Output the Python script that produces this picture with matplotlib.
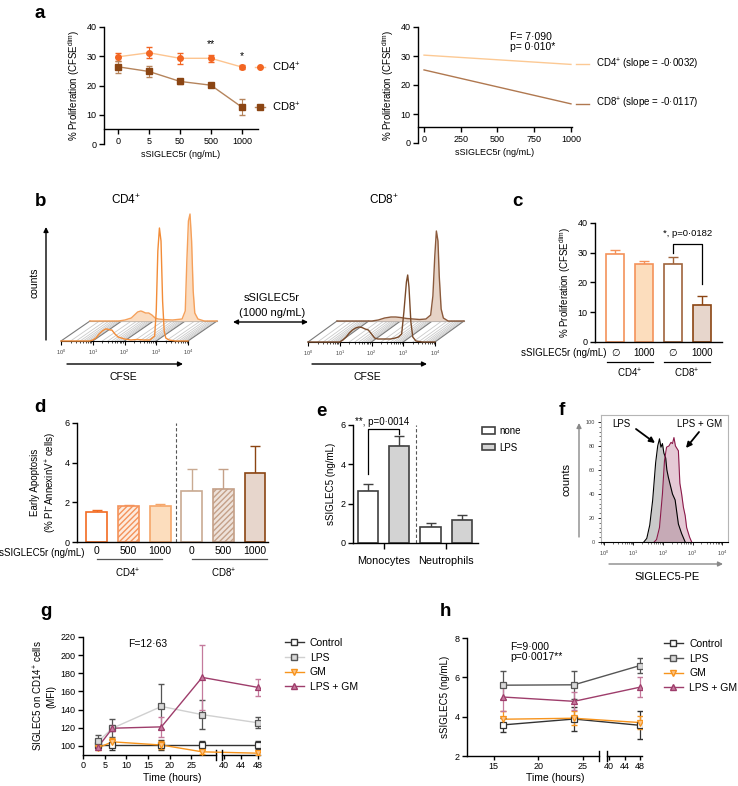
import numpy as np
import matplotlib
matplotlib.use('Agg')
import matplotlib.pyplot as plt
from matplotlib.patches import FancyArrowPatch, Patch
from matplotlib.lines import Line2D
from matplotlib.ticker import LogLocator, NullFormatter, FixedLocator

plt.rcParams['font.family'] = ['Liberation Sans', 'DejaVu Sans']
plt.rcParams['mathtext.default'] = 'regular'
plt.rcParams['axes.linewidth'] = 1.0

W, H = 738, 786
fig = plt.figure(figsize=(W / 100, H / 100), dpi=100)

# ---------------- data ----------------
# a
conc_labels = ['0', '5', '50', '500', '1000']
cd4_mean = [29.8, 31.2, 29.3, 29.3, 26.3]
cd4_sem = [1.3, 1.9, 1.9, 1.1, 0.7]
cd8_mean = [26.4, 24.8, 21.4, 20.1, 12.6]
cd8_sem = [2.1, 1.8, 0.8, 0.4, 2.8]
fit_x = [0, 1000]
cd4_fit = [30.3, 27.1]
cd8_fit = [25.2, 13.5]

# b (histograms, x in log10 decades, y in arbitrary counts)
cd4_front_x = [0, 0.9, 1.0, 1.1, 1.2, 1.3, 1.4, 1.45, 1.55, 1.6, 1.7, 1.8, 1.9, 2.0, 2.2, 2.4,
               2.6, 2.8, 2.95, 3.0, 3.05, 3.1, 3.15, 3.2, 3.25, 3.3, 3.4, 3.6, 4.0]
cd4_front_y = [0, 0, 1, 3, 7, 10, 12, 12, 11, 11, 7, 4, 3, 2, 1, 1.5,
               1, 1, 5, 30, 90, 113, 100, 40, 10, 3, 1, 0, 0]
cd4_back_x = [0, 0.9, 1.1, 1.3, 1.4, 1.5, 1.6, 1.65, 1.75, 1.85, 1.95, 2.05, 2.15, 2.3, 2.6,
              2.9, 3.0, 3.05, 3.1, 3.15, 3.2, 3.25, 3.3, 3.4, 3.6, 4.0]
cd4_back_y = [0, 0, 1, 3, 6, 9, 10, 9.5, 8, 8, 6, 3, 2, 1.5, 1,
              2, 10, 60, 100, 107, 80, 30, 8, 2, 0, 0]
cd8_front_x = [0, 1.0, 1.1, 1.2, 1.3, 1.4, 1.5, 1.6, 1.7, 1.8, 1.9, 2.0, 2.1, 2.2, 2.4, 2.6,
               2.75, 2.85, 2.95, 3.02, 3.1, 3.14, 3.18, 3.24, 3.3, 3.4, 3.6, 4.0]
cd8_front_y = [0, 0, 2, 5, 9, 12, 14, 15, 14.5, 13, 12, 8, 4, 3, 3, 3,
               4, 5, 8, 30, 60, 67, 55, 20, 5, 1, 0, 0]
cd8_back_x = [0, 1.1, 1.3, 1.5, 1.7, 1.85, 2.0, 2.2, 2.4, 2.6, 2.8, 2.95, 3.02, 3.08, 3.13,
              3.18, 3.22, 3.28, 3.35, 3.5, 4.0]
cd8_back_y = [0, 0, 1, 3, 4, 4, 3.5, 2.5, 2, 1.5, 2, 6, 25, 65, 90,
              80, 45, 12, 3, 0, 0]

# c
c_labels = ['\u2205', '1000', '\u2205', '1000']
c_mean = [29.7, 26.2, 26.3, 12.6]
c_sem = [1.3, 0.9, 2.2, 2.9]

# d
d_labels = ['0', '500', '1000', '0', '500', '1000']
d_mean = [1.5, 1.8, 1.82, 2.57, 2.68, 3.5]
d_sem = [0.12, 0.08, 0.12, 1.1, 1.0, 1.35]

# e
e_groups = ['Monocytes', 'Neutrophils']
e_none = [2.65, 0.8]
e_none_sem = [0.35, 0.2]
e_lps = [4.92, 1.15]
e_lps_sem = [0.52, 0.28]

# f (histograms, x in log10 decades, y in % of max)
f_lps_x = [1.35, 1.45, 1.55, 1.65, 1.75, 1.82, 1.88, 1.93, 1.98, 2.03, 2.09, 2.13, 2.18,
           2.25, 2.32, 2.41, 2.52, 2.63, 2.75]
f_lps_y = [0, 3, 14, 35, 66, 80, 86, 79, 82, 74, 70, 60, 54, 47, 40, 35, 15, 7, 0]
f_gm_x = [1.7, 1.78, 1.88, 1.98, 2.05, 2.12, 2.2, 2.27, 2.32, 2.37, 2.42, 2.47, 2.52,
          2.57, 2.63, 2.69, 2.75, 2.8, 2.9, 2.97]
f_gm_y = [0, 2, 12, 40, 68, 79, 80, 83, 82, 87, 80, 78, 76, 49, 40, 29, 22, 12, 4, 0]

# g
g_time_early = [3.5, 6.8, 18.1, 27.5]
g_time_late = [48]
g_control = [101, 101, 101, 101, 101]
g_control_err = [3, 5, 5, 4, 4]
g_lps = [105, 119.5, 143.5, 134.5, 125.5]
g_lps_err = [7, 10, 25, 16, 6]
g_gm = [98, 104.5, 101, 93.5, 92]
g_gm_err = [3, 4, 4, 2, 2]
g_lpsgm = [99, 119.5, 121, 175.5, 164.5]
g_lpsgm_err = [2, 3, 11, 36, 9.5]

# h
h_time_early = [16, 24]
h_time_late = [48]
h_control = [3.58, 3.88, 3.56]
h_control_err = [0.35, 0.6, 0.72]
h_lps = [5.6, 5.62, 6.6]
h_lps_err = [0.7, 0.7, 0.4]
h_gm = [3.87, 3.92, 3.7]
h_gm_err = [0.4, 0.35, 0.35]
h_lpsgm = [5.0, 4.78, 5.5]
h_lpsgm_err = [0.7, 0.45, 0.5]

# ---------------- helpers ----------------
ORANGE = '#F26522'
ORANGE_L = '#FDC48F'
BROWN = '#8B4513'
BROWN_L = '#B5845C'
MAROON = '#9E3D6B'
TICK_FS = 6.5
LAB_FS = 7


def add_ax(x0, y0, x1, y1):
    return fig.add_axes([x0 / W, 1 - y1 / H, (x1 - x0) / W, (y1 - y0) / H])


def ftext(x, y, s, **kw):
    kw.setdefault('ha', 'center')
    kw.setdefault('va', 'center')
    fig.text(x / W, 1 - y / H, s, **kw)


def farrow(x0, y0, x1, y1, style='-|>', color='k', lw=1.0, ms=7):
    fig.add_artist(FancyArrowPatch((x0 / W, 1 - y0 / H), (x1 / W, 1 - y1 / H),
                                   transform=fig.transFigure, arrowstyle=style,
                                   mutation_scale=ms, lw=lw, color=color,
                                   shrinkA=0, shrinkB=0))


def prism(ax, fs=TICK_FS):
    for s in ['top', 'right']:
        ax.spines[s].set_visible(False)
    ax.tick_params(direction='out', length=3.5, width=1, labelsize=fs, pad=2)


# panel letters
for lab, x, y in [('a', 40, 14), ('b', 41, 202), ('c', 517, 202), ('d', 40, 408),
                  ('e', 321, 412), ('f', 562, 410), ('g', 46, 612), ('h', 445, 612)]:
    ftext(x, y, lab, fontsize=13.5, fontweight='bold')

# ---------------- a (left) ----------------
ax = add_ax(104, 27, 258, 144)
prism(ax)
xi = np.arange(len(conc_labels))
ax.errorbar(xi, cd4_mean, yerr=cd4_sem, color=ORANGE_L, lw=1, marker='o', ms=4,
            mfc=ORANGE, mec=ORANGE, ecolor=ORANGE, elinewidth=0.8, capsize=2)
ax.errorbar(xi, cd8_mean, yerr=cd8_sem, color=BROWN_L, lw=1, marker='s', ms=4,
            mfc=BROWN, mec=BROWN, ecolor=BROWN_L, elinewidth=0.8, capsize=2)
ax.set_xlim(-0.45, 4.52)
ax.set_ylim(0, 40)
ax.spines['bottom'].set_position(('data', 5))
ax.set_xticks(xi)
ax.set_xticklabels(conc_labels)
ax.set_yticks([0, 10, 20, 30, 40])
ax.set_ylabel('% Proliferation (CFSE$^{dim}$)', fontsize=LAB_FS, labelpad=3)
ax.set_xlabel('sSIGLEC5r (ng/mL)', fontsize=TICK_FS, labelpad=3)
ax.text(3, 32.3, '**', ha='center', va='bottom', fontsize=7.5)
ax.text(4, 28.3, '*', ha='center', va='bottom', fontsize=7.5)
for mean, lc, mc, mk, lab in [(cd4_mean, ORANGE_L, ORANGE, 'o', 'CD4$^{+}$'),
                              (cd8_mean, BROWN_L, BROWN, 's', 'CD8$^{+}$')]:
    ax.plot([4.42, 4.74], [mean[-1], mean[-1]], color=lc, lw=1, clip_on=False)
    ax.plot([4.58], [mean[-1]], marker=mk, ms=4, color=mc, clip_on=False)
    ax.text(4.98, mean[-1], lab, fontsize=8, va='center', ha='left')

# ---------------- a (right) ----------------
ax = add_ax(418, 27, 572, 143)
prism(ax)
ax.plot(fit_x, cd4_fit, color='#FCC994', lw=1)
ax.plot(fit_x, cd8_fit, color='#B07850', lw=1)
ax.set_xlim(-41, 1007)
ax.set_ylim(0, 40)
ax.spines['bottom'].set_position(('data', 5.5))
ax.set_xticks([0, 250, 500, 750, 1000])
ax.set_yticks([0, 10, 20, 30, 40])
ax.set_ylabel('% Proliferation (CFSE$^{dim}$)', fontsize=LAB_FS, labelpad=3)
ax.set_xlabel('sSIGLEC5r (ng/mL)', fontsize=TICK_FS, labelpad=3)
ax.text(585, 34.8, 'F= 7\u00b7090\np= 0\u00b7010*', fontsize=7.5, va='center', ha='left',
        linespacing=1.0)
for fit, lc, lab in [(cd4_fit, '#FCC994', 'CD4$^{+}$ (slope = -0\u00b70032)'),
                     (cd8_fit, '#B07850', 'CD8$^{+}$ (slope = -0\u00b70117)')]:
    ax.plot([1036, 1124], [fit[-1], fit[-1]], color=lc, lw=1, clip_on=False)
    ax.text(1170, fit[-1], lab, fontsize=7, va='center', ha='left')

# ---------------- b ----------------


def waterfall(x0, base_y, dx, dy, fx, fy, bx, by, line_c, fill_c, edge_c):
    ax = add_ax(x0, base_y - 162, x0 + 127, base_y)
    ax.set_xscale('log')
    ax.set_xlim(1, 1e4)
    ax.set_ylim(0, 162)
    S = 10 ** (dx / (127 / 4))
    for s in ['top', 'right', 'left']:
        ax.spines[s].set_visible(False)
    ax.spines['bottom'].set_linewidth(0.8)
    ax.patch.set_visible(False)
    ax.set_yticks([])
    ax.xaxis.set_major_locator(FixedLocator([1, 10, 100, 1000, 10000]))
    ax.xaxis.set_minor_locator(LogLocator(base=10, subs=np.arange(2, 10), numticks=20))
    ax.xaxis.set_minor_formatter(NullFormatter())
    ax.set_xticklabels(['$10^{0}$', '$10^{1}$', '$10^{2}$', '$10^{3}$', '$10^{4}$'])
    ax.tick_params(axis='x', which='major', length=3, width=0.8, labelsize=4, pad=2,
                   labelcolor='#444444')
    ax.tick_params(axis='x', which='minor', length=1.5, width=0.5)
    # floor stripes
    for k in range(4):
        for m in range(1, 10):
            v = m * 10 ** k
            c = '#7a7a7a' if m == 1 else '#cacaca'
            ax.plot([v, v * S], [0, dy], color=c, lw=0.6 if m > 1 else 0.8,
                    clip_on=False, zorder=1)
    ax.plot([1e4, 1e4 * S], [0, dy], color='#7a7a7a', lw=0.8, clip_on=False, zorder=1)
    ax.plot([S, 1e4 * S], [dy, dy], color='#9a9a9a', lw=0.8, clip_on=False, zorder=1)
    bxs = 10 ** np.array(bx) * S
    bys = np.array(by) + dy
    ax.fill_between(bxs, dy, bys, color=fill_c, lw=0, clip_on=False, zorder=2)
    ax.plot(bxs, bys, color=edge_c, lw=1, clip_on=False, zorder=3)
    ax.plot(10 ** np.array(fx), fy, color=line_c, lw=1, clip_on=False, zorder=4)
    return ax


waterfall(61, 341, 29, 20, cd4_front_x, cd4_front_y, cd4_back_x, cd4_back_y,
          '#F28C38', '#FBDCC0', '#F5A05A')
waterfall(308, 342, 29, 21, cd8_front_x, cd8_front_y, cd8_back_x, cd8_back_y,
          '#7A4A2A', '#E6D3C6', '#8B5A3C')
ftext(126, 200, 'CD4$^{+}$', fontsize=8.5)
ftext(384, 200, 'CD8$^{+}$', fontsize=8.5)
farrow(46, 340, 46, 227)
ftext(34, 283, 'counts', fontsize=7.5, rotation=90)
farrow(67, 364, 183, 364)
farrow(312, 364, 427, 364)
ftext(123, 377, 'CFSE', fontsize=7.5)
ftext(367, 377, 'CFSE', fontsize=7.5)
farrow(233, 322, 308, 322, style='<|-|>')
ftext(272, 298, 'sSIGLEC5r', fontsize=8)
ftext(272, 313, '(1000 ng/mL)', fontsize=8)

# ---------------- c ----------------
ax = add_ax(595, 223, 722, 342)
prism(ax)
xc = np.arange(4)
c_fill = ['white', '#FCDDBD', 'white', '#E7D6CC']
c_edge = ['#F4925A', '#F4925A', '#A0643C', '#8B4513']
ax.bar(xc, c_mean, width=0.65, color=c_fill, edgecolor=c_edge, lw=1.2, zorder=2)
for i in xc:
    ax.errorbar(i, c_mean[i], yerr=[[0], [c_sem[i]]], fmt='none', ecolor=c_edge[i],
                elinewidth=1, capsize=3.5, capthick=1, zorder=1)
ax.set_xlim(-0.69, 3.69)
ax.set_ylim(0, 40)
ax.set_yticks([0, 10, 20, 30, 40])
ax.set_xticks(xc)
ax.set_xticklabels(c_labels, fontsize=7)
ax.tick_params(axis='x', length=0, pad=4)
ax.set_ylabel('% Proliferation (CFSE$^{dim}$)', fontsize=LAB_FS, labelpad=3)
ax.plot([2, 2, 3, 3], [29.8, 33, 33, 19.5], color='k', lw=0.9)
ax.text(2.5, 36.5, '*, p=0\u00b70182', ha='center', va='center', fontsize=6.8)
tr = ax.get_xaxis_transform()
ax.text(-0.28, -0.092, 'sSIGLEC5r (ng/mL)', transform=tr, ha='right', va='center', fontsize=7)
for x0, x1, lab in [(-0.28, 1.31, 'CD4$^{+}$'), (1.69, 3.28, 'CD8$^{+}$')]:
    ax.plot([x0, x1], [-0.168, -0.168], transform=tr, color='k', lw=0.9, clip_on=False)
    ax.text((x0 + x1) / 2, -0.26, lab, transform=tr, ha='center', va='center', fontsize=7)

# ---------------- d ----------------
ax = add_ax(77, 423, 268, 542)
prism(ax)
xd = np.arange(6)
d_fill = ['white', '#FDEBDD', '#FCDDBD', 'white', '#EEE2DA', '#E7D6CC']
d_edge = ['#F26B21', '#F4925A', '#F5A66A', '#C9AA92', '#C4A088', '#8B4513']
d_hatch = [None, '//////', None, None, '//////', None]
for i in xd:
    ax.bar(i, d_mean[i], width=0.66, color=d_fill[i], edgecolor=d_edge[i], lw=1.2,
           hatch=d_hatch[i], zorder=2)
    ax.errorbar(i, d_mean[i], yerr=[[0], [d_sem[i]]], fmt='none', ecolor=d_edge[i],
                elinewidth=1, capsize=3.5, capthick=1, zorder=1)
ax.axvline(2.5, color='#555555', lw=0.8, ls=(0, (3, 2)))
ax.set_xlim(-0.63, 5.41)
ax.set_ylim(0, 6)
ax.set_yticks([0, 2, 4, 6])
ax.set_xticks(xd)
ax.set_xticklabels(d_labels, fontsize=7.5)
ax.tick_params(axis='x', length=0, pad=3)
ax.set_ylabel('Early Apoptosis\n(% PI$^{-}$AnnexinV$^{+}$ cells)', fontsize=7, labelpad=4,
              linespacing=1.3)
tr = ax.get_xaxis_transform()
ax.text(-0.38, -0.05, 'sSIGLEC5r (ng/mL)', transform=tr, ha='right', va='top', fontsize=7)
for x0, x1, xm, lab in [(0, 2.06, 0.98, 'CD4$^{+}$'), (3.0, 5.38, 4.0, 'CD8$^{+}$')]:
    ax.plot([x0, x1], [-0.143, -0.143], transform=tr, color='#555555', lw=0.9, clip_on=False)
    ax.text(xm, -0.26, lab, transform=tr, ha='center', va='center', fontsize=7)

# ---------------- e ----------------
ax = add_ax(353, 425, 478, 543)
prism(ax)
xe = np.array([0, 2])
ax.bar(xe, e_none, width=0.65, color='white', edgecolor='#404040', lw=1.2, zorder=2)
ax.bar(xe + 1, e_lps, width=0.65, color='#D3D3D3', edgecolor='#404040', lw=1.2, zorder=2)
ax.errorbar(xe, e_none, yerr=[[0, 0], e_none_sem], fmt='none', ecolor='#404040',
            elinewidth=1, capsize=3.5, capthick=1, zorder=1)
ax.errorbar(xe + 1, e_lps, yerr=[[0, 0], e_lps_sem], fmt='none', ecolor='#404040',
            elinewidth=1, capsize=3.5, capthick=1, zorder=1)
ax.axvline(1.55, color='#555555', lw=0.8, ls=(0, (3, 2)))
ax.set_xlim(-0.48, 3.52)
ax.set_ylim(0, 6)
ax.set_yticks([0, 2, 4, 6])
ax.set_xticks([0.5, 2.5])
ax.set_xticklabels(e_groups, fontsize=7.8)
ax.tick_params(axis='x', length=4, pad=5)
ax.set_ylabel('sSIGLEC5 (ng/mL)', fontsize=7, labelpad=3)
ax.plot([0, 0, 1, 1], [3.5, 5.8, 5.8, 5.55], color='k', lw=0.9)
ax.text(0.45, 6.15, '**, p=0\u00b70014', ha='center', va='center', fontsize=7,
        clip_on=False)
ax.legend([Patch(facecolor='white', edgecolor='#404040', lw=1.2),
           Patch(facecolor='#D3D3D3', edgecolor='#404040', lw=1.2)],
          ['none', 'LPS'], loc='upper left', bbox_to_anchor=(482 / W, 1 - 426 / H),
          bbox_transform=fig.transFigure, frameon=False, fontsize=7,
          handlelength=1.3, handleheight=0.6, handletextpad=0.5, labelspacing=0.7,
          borderaxespad=0, borderpad=0)

# ---------------- f ----------------
ax = add_ax(601, 415, 728, 542)
ax.set_xscale('log')
ax.fill_between(10 ** np.array(f_lps_x), 0, f_lps_y, color='#A8A8A8', alpha=0.6, lw=0)
ax.plot(10 ** np.array(f_lps_x), f_lps_y, color='k', lw=0.8)
ax.fill_between(10 ** np.array(f_gm_x), 0, f_gm_y, color='#C07A98', alpha=0.4, lw=0)
ax.plot(10 ** np.array(f_gm_x), f_gm_y, color='#8B1A4A', lw=0.8)
ax.set_xlim(10 ** -0.1, 10 ** 4.2)
ax.set_ylim(0, 105.8)
for s in ax.spines.values():
    s.set_color('#b5b5b5')
    s.set_linewidth(0.8)
ax.spines['bottom'].set_color('k')
ax.xaxis.set_major_locator(FixedLocator([1, 10, 100, 1000, 10000]))
ax.xaxis.set_minor_locator(LogLocator(base=10, subs=np.arange(2, 10), numticks=20))
ax.xaxis.set_minor_formatter(NullFormatter())
ax.set_xticklabels(['$10^{0}$', '$10^{1}$', '$10^{2}$', '$10^{3}$', '$10^{4}$'])
ax.set_yticks([0, 20, 40, 60, 80, 100])
ax.yaxis.set_minor_locator(FixedLocator(np.arange(0, 101, 4)))
ax.tick_params(which='major', length=2.5, width=0.6, labelsize=4, pad=2, labelcolor='#444444')
ax.tick_params(which='minor', length=1.2, width=0.4)
ftext(621, 424, 'LPS', fontsize=7)
ftext(700, 424, 'LPS + GM', fontsize=7)
farrow(636, 429, 655, 443, lw=1.3, ms=8)
farrow(699, 432, 686, 448, lw=1.3, ms=8)
farrow(579, 537, 579, 423, color='#888888')
ftext(567, 480, 'counts', fontsize=8, rotation=90)
farrow(609, 564, 723, 564, color='#888888')
ftext(667, 577, 'SIGLEC5-PE', fontsize=8)


# ---------------- g & h ----------------
def draw_series(a1, a2, series, te, tl):
    n = len(te)
    for vals, errs, lc, mk, mfc, mec, ec in series:
        t = np.array(list(te) + list(tl), dtype=float)
        # late points expressed in the left axes' data space, so the line runs
        # straight across the axis break
        to_left = a2.transData + a1.transData.inverted()
        late = to_left.transform(np.column_stack([tl, vals[n:]]))
        xs = list(te) + list(late[:, 0])
        ys = list(vals[:n]) + list(late[:, 1])
        a1.plot(xs, ys, color=lc, lw=1, clip_on=False, zorder=2)
        for a in (a1, a2):
            a.errorbar(t, vals, yerr=errs, fmt='none', ecolor=ec, elinewidth=0.9, capsize=2,
                       zorder=3)
            a.plot(t, vals, ls='none', marker=mk, ms=4, mfc=mfc, mec=mec, mew=0.9, zorder=4)


def make_broken(left_box, right_box, xl, xr, yl, yticks, ylab, left_ticks):
    a1 = add_ax(*left_box)
    a2 = add_ax(*right_box)
    prism(a1)
    prism(a2)
    a2.spines['left'].set_visible(False)
    a2.tick_params(axis='y', left=False, labelleft=False)
    a1.set_xlim(*xl)
    a2.set_xlim(*xr)
    for a in (a1, a2):
        a.set_ylim(*yl)
        a.patch.set_visible(False)
        a.tick_params(axis='x', length=3, pad=1.5)
    a1.set_yticks(yticks)
    a1.set_xticks(left_ticks)
    a2.set_xticks([40, 44, 48])
    a1.set_ylabel(ylab, fontsize=LAB_FS, labelpad=3, linespacing=1.15)
    a1.plot([1, 1], [-0.045, 0.045], transform=a1.transAxes, color='k', lw=1, clip_on=False)
    a2.plot([0, 0], [-0.045, 0.045], transform=a2.transAxes, color='k', lw=1, clip_on=False)
    return a1, a2


def series_legend(ax, series, x, y):
    ax.legend([Line2D([], [], color=s[2], marker=s[3], mfc=s[4], mec=s[5], ms=4, lw=1)
               for s in series], ['Control', 'LPS', 'GM', 'LPS + GM'],
              loc='upper left', bbox_to_anchor=(x / W, 1 - y / H),
              bbox_transform=fig.transFigure, frameon=False, fontsize=7.5,
              handlelength=1.8, handletextpad=0.6, labelspacing=0.45,
              borderaxespad=0, borderpad=0)


g_series = [
    (g_control, g_control_err, '#333333', 's', 'white', '#333333', '#333333'),
    (g_lps, g_lps_err, '#D0D0D0', 's', '#D9D9D9', '#555555', '#555555'),
    (g_gm, g_gm_err, '#F7941D', 'v', '#FCC58A', '#F7941D', '#F7941D'),
    (g_lpsgm, g_lpsgm_err, MAROON, '^', '#C77A9E', MAROON, '#C47A9C'),
]
g1, g2 = make_broken((83, 637, 216, 755), (222, 637, 260, 755), (0, 30.7), (39.5, 48.5),
                     (90, 220), [100, 120, 140, 160, 180, 200, 220],
                     'SIGLEC5 on CD14$^{+}$ cells\n(MFI)', [0, 5, 10, 15, 20, 25])
draw_series(g1, g2, g_series, g_time_early, g_time_late)
g1.text(15, 212, 'F=12\u00b763', ha='center', va='center', fontsize=7.5)
ftext(172, 778, 'Time (hours)', fontsize=7.5)
series_legend(g1, g_series, 285, 638)

h_series = [
    (h_control, h_control_err, '#333333', 's', 'white', '#333333', '#333333'),
    (h_lps, h_lps_err, '#555555', 's', '#D9D9D9', '#555555', '#555555'),
    (h_gm, h_gm_err, '#F7941D', 'v', '#FCC58A', '#F7941D', '#F7941D'),
    (h_lpsgm, h_lpsgm_err, MAROON, '^', '#C77A9E', MAROON, '#C47A9C'),
]
h1, h2 = make_broken((467, 638, 599, 756), (607, 638, 642, 756), (12, 26.8), (39.5, 48.5),
                     (2, 8), [2, 4, 6, 8], 'sSIGLEC5 (ng/mL)', [15, 20, 25])
draw_series(h1, h2, h_series, h_time_early, h_time_late)
h1.text(16.8, 7.3, 'F=9\u00b7000\np=0\u00b70017**', ha='left', va='center',
        fontsize=7.5, linespacing=1.0)
ftext(555, 778, 'Time (hours)', fontsize=7.5)
series_legend(h1, h_series, 664, 639)

fig.savefig('out.png', dpi=100)
